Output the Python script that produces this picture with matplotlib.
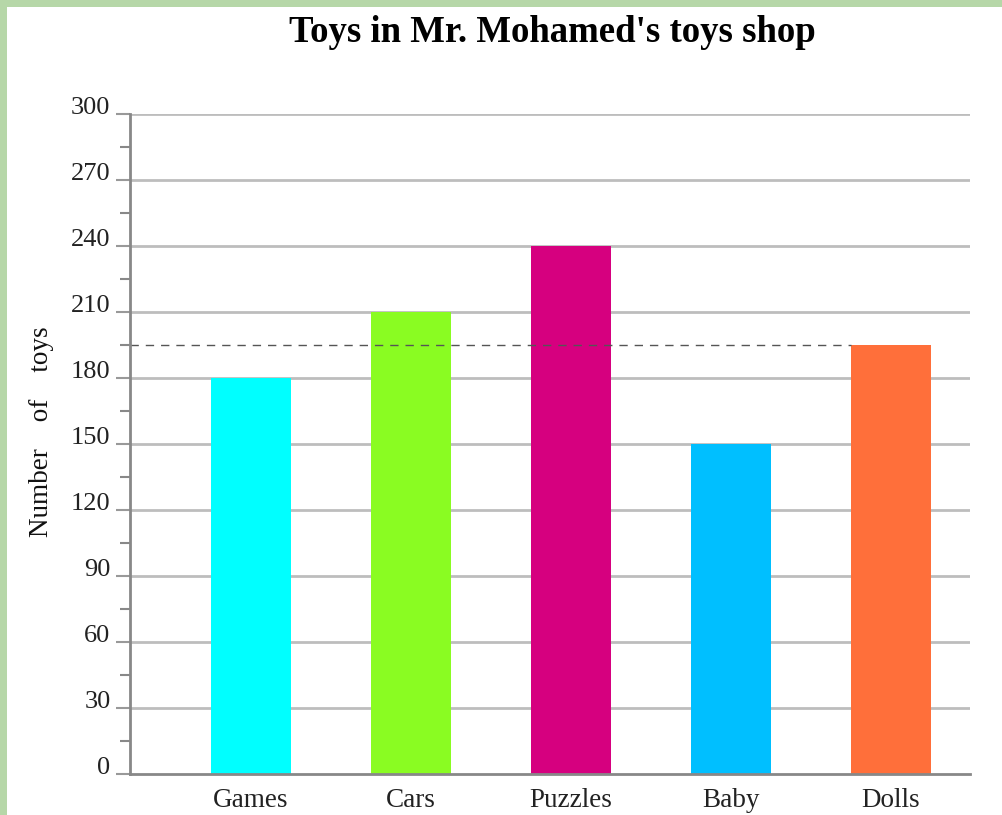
import matplotlib
matplotlib.use("Agg")
import matplotlib.pyplot as plt
from matplotlib.patches import Rectangle
from matplotlib.ticker import MultipleLocator

categories = ["Games", "Cars", "Puzzles", "Baby", "Dolls"]
values = [180, 210, 240, 150, 195]
colors = ["#00ffff", "#8afc22", "#d6007f", "#00bfff", "#ff6f3a"]
reference_value = 195
yticks = [0, 30, 60, 90, 120, 150, 180, 210, 240, 270, 300]

W, H = 1003, 815
fig = plt.figure(figsize=(W / 100, H / 100), dpi=100)
fig.patch.set_facecolor("#b6d7a8")
fig.add_artist(Rectangle((7 / W, 0), 1 - 7 / W, (H - 7) / H, transform=fig.transFigure,
                         facecolor="white", edgecolor="none", zorder=0))

left, right, top, bottom = 130, 970, 114, 774
ax = fig.add_axes([left / W, (H - bottom) / H, (right - left) / W, (bottom - top) / H])
ax.set_facecolor("none")

serif = ["Liberation Serif", "DejaVu Serif"]

x = list(range(len(categories)))
ax.bar(x, values, width=0.5, color=colors, zorder=2)
ax.set_xlim((left - 251) / 160, (right - 251) / 160)
ax.set_ylim(0, 300)

for t in yticks[1:]:
    ax.axhline(t, color="#bdbdbd", lw=2, zorder=1)

# dashed reference line from axis to last bar
ax.plot([ax.get_xlim()[0], x[-1] - 0.25], [reference_value, reference_value],
        color="#555555", lw=1, ls=(0, (6, 5)), zorder=3)

ax.set_yticks(yticks)
ax.yaxis.set_minor_locator(MultipleLocator(15))
ax.set_yticklabels([str(v) for v in yticks], fontfamily=serif, fontsize=19, color="#222222")
for lab in ax.get_yticklabels():
    lab.set_verticalalignment("baseline")
ax.tick_params(axis="y", which="major", length=10, width=1.5, color="#999999", pad=4)
ax.tick_params(axis="y", which="minor", length=7, width=1.5, color="#888888")
ax.set_xticks(x)
ax.set_xticklabels(categories, fontfamily=serif, fontsize=19.5, color="#222222")
ax.tick_params(axis="x", length=0, pad=10)

for s in ["top", "right"]:
    ax.spines[s].set_visible(False)
for s in ["left", "bottom"]:
    ax.spines[s].set_color("#888888")
    ax.spines[s].set_linewidth(2)
    ax.spines[s].set_zorder(4)

fig.text(42 / W, (H - 432) / H, "Number    of    toys", rotation=90, ha="center", va="center",
         fontfamily=serif, fontsize=19.5, color="#111111")
fig.text(552 / W, (H - 32) / H, "Toys in Mr. Mohamed's toys shop", ha="center", va="center",
         fontfamily=serif, fontsize=26.5, fontweight="bold")

fig.savefig("out.png", dpi=100, facecolor=fig.get_facecolor())
